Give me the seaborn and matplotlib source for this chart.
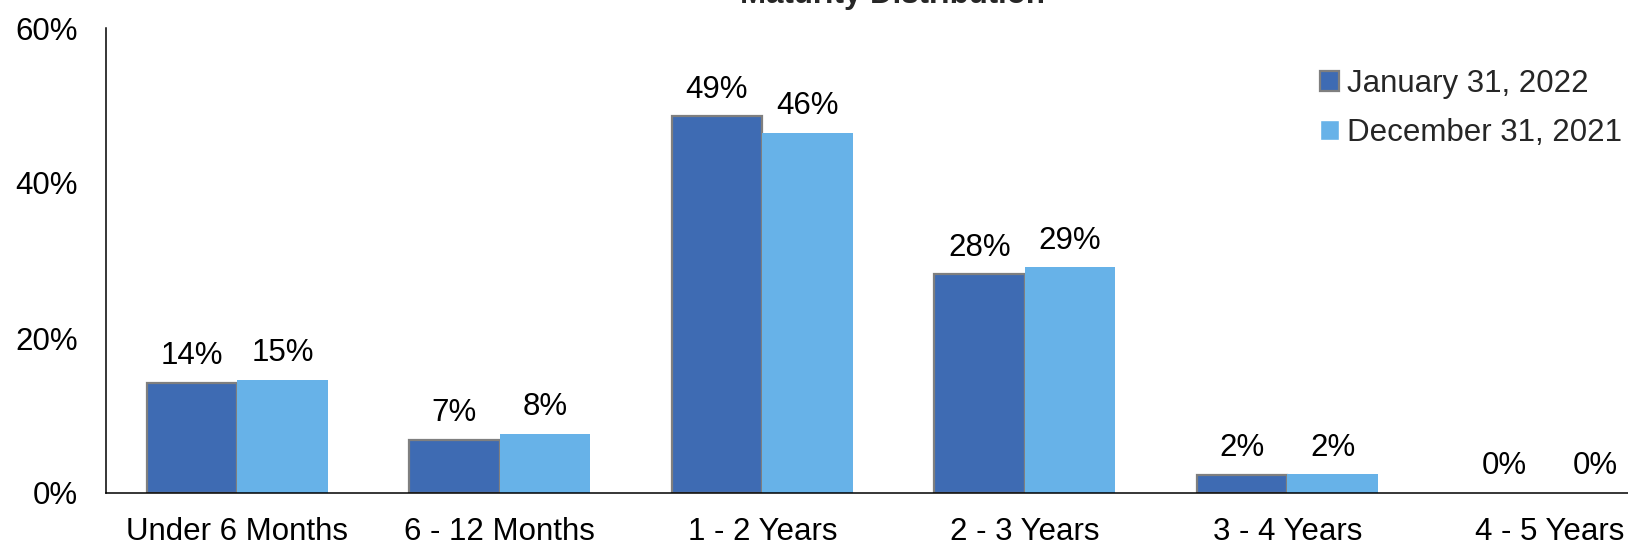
"""
plot.py – Maturity Distribution (bar chart agrupado)
"""

import pandas as pd
import matplotlib
matplotlib.use("Agg")
import matplotlib.pyplot as plt
import seaborn as sns


# Datos
CATEGORIES = ["Under 6 Months", "6 - 12 Months", "1 - 2 Years",
              "2 - 3 Years", "3 - 4 Years", "4 - 5 Years"]
SERIES = ["January 31, 2022", "December 31, 2021"]
JAN_2022 = [14.25, 6.8, 48.6, 28.2, 2.3, 0.0]
DEC_2021 = [14.6, 7.6, 46.5, 29.1, 2.4, 0.0]
Y_TICKS = [0, 20, 40, 60]

COLORS = ["#3E6BB3", "#67B2E8"]
EDGE = "#7F7F7F"
FONT = "Liberation Sans"
FS = 22.5


def build_frame() -> pd.DataFrame:
    rows = []
    for name, values in zip(SERIES, [JAN_2022, DEC_2021]):
        for cat, v in zip(CATEGORIES, values):
            rows.append({"category": cat, "series": name, "value": v})
    return pd.DataFrame(rows)


def run():
    df = build_frame()

    sns.set_theme(style="white")
    plt.rcParams["font.family"] = [FONT, "DejaVu Sans"]

    fig = plt.figure(figsize=(16.28, 5.45), dpi=100)
    # el eje se sale por la derecha, como en el original
    ax = fig.add_axes([106 / 1628, 52 / 545, 1575 / 1628, 465 / 545])

    sns.barplot(data=df, x="category", y="value", hue="series",
                order=CATEGORIES, hue_order=SERIES, palette=COLORS,
                width=0.69, gap=0, saturation=1, ax=ax, legend=True)

    # borde gris solo en la primera serie (y no en barras vacías)
    for patch in ax.containers[0]:
        patch.set_edgecolor(EDGE)
        patch.set_linewidth(1.6 if patch.get_height() > 0 else 0)
    for patch in ax.containers[1]:
        patch.set_linewidth(0)

    # etiquetas de datos
    for cont in ax.containers:
        ax.bar_label(cont, labels=[f"{p.get_height():.0f}%" for p in cont],
                     padding=8.5, fontsize=FS, color="black")

    ax.set_xlim(-0.5, 5.5)
    ax.set_ylim(0, 60)
    ax.set_yticks(Y_TICKS)
    ax.set_yticklabels([f"{t}%" for t in Y_TICKS])
    ax.set_xlabel("")
    ax.set_ylabel("")
    ax.tick_params(axis="both", length=0, labelsize=FS, colors="black")
    ax.tick_params(axis="x", pad=17)
    ax.tick_params(axis="y", pad=20)

    for side in ["top", "right"]:
        ax.spines[side].set_visible(False)
    for side in ["left", "bottom"]:
        ax.spines[side].set_color("black")
        ax.spines[side].set_linewidth(1.1)

    # leyenda
    handles, labels = ax.get_legend_handles_labels()
    handles[0].set_edgecolor(EDGE)
    handles[0].set_linewidth(1.6)
    ax.legend(handles, labels, loc="upper left",
              bbox_to_anchor=(1320 / 1628, 1 - 69 / 545),
              bbox_transform=fig.transFigure, frameon=False,
              fontsize=FS, handlelength=0.6, handleheight=0.6,
              handletextpad=0.25, labelspacing=0.62, borderaxespad=0,
              borderpad=0)

    # título recortado por arriba
    fig.text(893 / 1628, 1 - 3 / 545, "Maturity Distribution",
             ha="center", va="baseline", fontsize=FS, fontweight="bold")

    fig.savefig("out.png", dpi=100)
    plt.close(fig)


if __name__ == "__main__":
    run()
